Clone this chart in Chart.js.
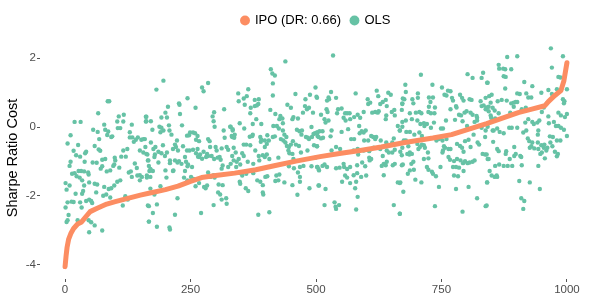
<!DOCTYPE html>
<html lang="en">
<head>
  <meta charset="UTF-8">
  <title>Sharpe Ratio Cost</title>
  <script src="https://cdn.jsdelivr.net/npm/chart.js"></script>
  <style>
    body { margin: 0; background: #ffffff; }
    #chart { display: block; }
  </style>
</head>
<body>
  <canvas id="chart" width="598" height="299"></canvas>

  <script>
    // series labels and colours (ggplot Set2)
    const seriesNames = ['IPO (DR: 0.66)', 'OLS'];
    const seriesColors = ['#fc8d62', '#66c2a5'];

    // axis ticks
    const xTicks = [0, 250, 500, 750, 1000];
    const yTicks = [-4, -2, 0, 2];

    // IPO: sorted cost curve, read as [index, value]
    const ipoPoints = [
      [0,-4.06],[2,-3.75],[4,-3.5],[7,-3.27],[12,-3.08],[17,-2.95],[25,-2.82],[33,-2.76],[43,-2.58],
      [50,-2.46],[63,-2.37],[83,-2.24],[100,-2.17],[123,-2.08],[150,-1.98],[169,-1.92],[200,-1.82],
      [225,-1.72],[250,-1.58],[272,-1.47],[300,-1.41],[338,-1.34],[380,-1.24],[419,-1.12],[460,-0.99],
      [508,-0.86],[550,-0.76],[588,-0.68],[630,-0.58],[677,-0.45],[733,-0.32],[770,-0.22],[800,-0.08],
      [840,0.1],[870,0.25],[903,0.42],[930,0.52],[956,0.62],[963,0.74],[976,0.92],[988,1.06],
      [994,1.35],[1000,1.87]
    ];

    // OLS: cost at the same index, read as [index, value]
    const olsPoints = [
      // 0 - 170
      [85,0.75],[88,0.75],[66,0.40],[19,0.15],[31,0.15],[107,0.31],[117,0.36],[104,0.16],[116,0.16],[78,0.07],
      [133,0.07],[161,0.30],[161,0.16],[11,-0.24],[5,-0.48],[56,-0.08],[65,-0.14],[80,-0.08],[86,-0.13],[84,-0.23],
      [105,-0.03],[110,-0.03],[129,-0.15],[134,-0.30],[129,-0.30],[92,-0.29],[94,-0.27],[68,-0.35],[59,-0.55],[67,-0.65],
      [70,-0.69],[26,-0.52],[17,-0.69],[22,-0.82],[30,-0.86],[42,-0.72],[40,-0.76],[116,-0.68],[124,-0.64],[112,-0.86],
      [121,-0.86],[137,-0.43],[141,-0.37],[152,-0.37],[156,-0.35],[145,-0.30],[149,-0.68],[156,-0.74],[162,-0.78],[165,-0.97],
      [11,-1.01],[9,-1.13],[39,-1.01],[55,-1.03],[63,-1.04],[74,-0.95],[80,-0.93],[99,-0.89],[100,-0.97],[74,-1.14],
      [71,-1.21],[83,-1.29],[90,-1.26],[96,-1.13],[98,-1.09],[108,-1.18],[14,-1.36],[19,-1.34],[27,-1.28],[32,-1.28],
      [38,-1.29],[46,-1.32],[47,-1.38],[23,-1.43],[29,-1.47],[139,-1.06],[143,-1.19],[127,-1.32],[131,-1.29],[133,-1.45],
      [144,-1.41],[149,-1.40],[153,-1.45],[149,-1.55],[163,-1.47],[168,-1.28],[1,-1.63],[9,-1.70],[3,-1.82],[34,-1.55],
      [38,-1.70],[48,-1.61],[59,-1.65],[64,-1.67],[62,-1.90],[36,-1.86],[34,-1.94],[21,-1.94],[78,-1.74],[87,-1.80],
      [92,-1.78],[76,-2.00],[82,-1.96],[98,-1.70],[104,-1.59],[110,-1.55],[90,-2.05],[13,-2.17],[17,-2.18],[5,-2.19],
      [30,-2.19],[42,-2.15],[48,-2.11],[52,-2.15],[54,-2.21],[1,-2.34],[7,-2.56],[3,-2.76],[5,-2.71],[33,-2.34],
      [120,-2.01],[125,-2.11],[115,-2.28],[25,-2.71],[47,-2.71],[52,-2.77],[59,-2.86],[48,-3.06],[74,-3.01],[165,-2.28],
      [167,-2.75],
      // 160 - 340
      [196,1.35],[182,1.09],[273,1.15],[276,1.04],[285,1.28],[244,0.84],[227,0.69],[228,0.65],[205,0.59],[260,0.56],
      [229,0.38],[200,0.42],[192,0.28],[203,0.28],[162,0.30],[162,0.17],[171,0.17],[297,0.43],[294,0.31],[296,0.17],
      [298,0.01],[317,0.52],[188,0.01],[192,-0.02],[196,-0.10],[190,-0.15],[207,0.05],[208,-0.10],[174,-0.08],[212,-0.22],
      [223,-0.39],[233,0.05],[316,-0.10],[318,-0.31],[329,0.01],[334,-0.06],[333,-0.29],[243,-0.25],[247,-0.24],[249,-0.16],
      [255,-0.16],[259,-0.18],[264,-0.26],[261,-0.37],[267,-0.41],[285,-0.35],[288,-0.41],[159,-0.35],[160,-0.58],[171,-0.45],
      [176,-0.64],[180,-0.58],[195,-0.53],[192,-0.76],[186,-0.72],[203,-0.74],[215,-0.64],[221,-0.58],[225,-0.68],[219,-0.51],
      [243,-0.68],[248,-0.68],[255,-0.66],[264,-0.64],[235,-0.56],[276,-0.72],[283,-0.78],[289,-0.58],[300,-0.58],[302,-0.68],
      [312,-0.62],[322,-0.58],[325,-0.66],[164,-0.80],[166,-0.97],[167,-1.13],[179,-0.80],[178,-0.87],[186,-1.03],[199,-0.84],
      [209,-0.97],[209,-1.05],[219,-0.97],[227,-0.99],[224,-1.03],[232,-1.07],[239,-0.87],[241,-1.01],[245,-1.09],[261,-0.76],
      [265,-0.86],[267,-0.87],[269,-0.80],[273,-0.92],[281,-0.87],[285,-0.84],[292,-0.84],[297,-0.93],[304,-0.89],[308,-0.87],
      [310,-0.95],[314,-1.12],[312,-1.21],[325,-1.16],[330,-1.07],[336,-0.97],[170,-1.22],[172,-1.26],[175,-1.28],[200,-1.26],
      [215,-1.28],[216,-1.26],[239,-1.28],[244,-1.14],[253,-1.16],[170,-1.45],[163,-1.41],[202,-1.47],[237,-1.47],[244,-1.55],
      [251,-1.45],[256,-1.51],[285,-1.32],[290,-1.45],[296,-1.40],[298,-1.47],[190,-1.72],[260,-1.72],[267,-1.63],[277,-1.74],
      [283,-1.70],[280,-1.78],[306,-1.67],[314,-1.69],[170,-1.79],[178,-1.96],[224,-2.07],[305,-1.90],[309,-1.96],[312,-2.11],
      [321,-2.07],[322,-2.23],[167,-2.30],[183,-2.25],[296,-2.27],[175,-2.50],[219,-2.55],[271,-2.50],[167,-2.75],[183,-2.90],
      [208,-2.92],[209,-2.98],
      // 330 - 510
      [439,1.91],[410,1.68],[413,1.56],[418,1.50],[414,1.27],[345,0.98],[365,1.10],[362,0.90],[414,0.92],[356,0.83],
      [346,0.75],[378,0.79],[386,0.81],[385,0.67],[382,0.63],[378,0.61],[358,0.65],[370,0.56],[369,0.40],[459,0.96],
      [479,0.81],[488,0.94],[502,0.85],[443,0.65],[450,0.56],[474,0.42],[478,0.61],[482,0.52],[486,0.56],[409,0.50],
      [419,0.38],[429,0.32],[427,0.23],[433,0.25],[434,0.11],[381,0.23],[455,0.29],[453,0.23],[464,0.25],[494,0.42],
      [491,0.00],[503,-0.16],[330,0.01],[334,-0.10],[337,-0.31],[332,-0.26],[338,-0.22],[348,0.11],[357,-0.04],[374,0.09],
      [391,0.09],[368,-0.28],[374,-0.22],[373,-0.26],[389,-0.29],[391,-0.37],[403,-0.24],[406,-0.39],[414,-0.29],[418,-0.27],
      [415,0.03],[422,0.03],[426,-0.04],[434,-0.10],[437,-0.22],[441,-0.29],[462,-0.08],[467,-0.12],[472,-0.10],[471,-0.22],
      [480,-0.29],[486,-0.35],[484,-0.31],[492,-0.29],[495,-0.20],[503,-0.26],[356,-0.51],[361,-0.51],[369,-0.53],[390,-0.43],
      [398,-0.39],[402,-0.49],[398,-0.58],[430,-0.35],[435,-0.39],[439,-0.45],[442,-0.55],[446,-0.58],[450,-0.51],[454,-0.41],
      [460,-0.51],[466,-0.55],[496,-0.53],[502,-0.56],[336,-0.60],[340,-0.74],[333,-0.84],[353,-0.76],[356,-0.84],[346,-0.93],
      [379,-0.68],[386,-0.84],[394,-0.82],[398,-0.87],[402,-0.80],[407,-0.93],[445,-0.68],[447,-0.76],[453,-0.78],[455,-0.93],
      [470,-0.74],[483,-0.68],[425,-0.89],[342,-1.01],[341,-1.16],[349,-1.09],[364,-1.01],[375,-1.07],[387,-0.97],[446,-1.14],
      [456,-1.20],[468,-1.16],[475,-1.13],[491,-1.14],[503,-1.16],[506,-1.26],[349,-1.34],[353,-1.41],[348,-1.59],[349,-1.65],
      [361,-1.36],[375,-1.34],[399,-1.45],[403,-1.43],[421,-1.41],[427,-1.38],[464,-1.32],[468,-1.45],[383,-1.55],[389,-1.59],
      [419,-1.57],[425,-1.55],[437,-1.61],[453,-1.69],[468,-1.59],[394,-1.69],[360,-1.78],[365,-1.86],[487,-1.78],[506,-1.70],
      [394,-1.90],[395,-1.96],[463,-1.97],[385,-2.55],[407,-2.48],
      // 500 - 675
      [534,2.08],[530,1.02],[525,0.86],[522,0.77],[526,0.81],[501,0.88],[499,1.15],[540,0.85],[579,0.98],[621,1.06],
      [624,0.90],[644,1.00],[649,0.94],[604,0.67],[608,0.71],[603,0.81],[628,0.67],[633,0.73],[639,0.79],[641,0.61],
      [521,0.52],[523,0.44],[510,0.36],[544,0.52],[551,0.54],[542,0.40],[558,0.40],[562,0.40],[567,0.40],[555,0.27],
      [559,0.19],[568,0.23],[576,0.29],[583,0.36],[588,0.27],[595,0.44],[612,0.42],[618,0.44],[623,0.42],[625,0.46],
      [639,0.23],[640,0.34],[651,0.44],[656,0.50],[657,0.34],[672,0.69],[673,0.83],[671,0.50],[498,-0.18],[502,-0.16],
      [507,-0.12],[513,-0.12],[505,-0.29],[510,-0.33],[514,-0.31],[517,0.23],[519,0.13],[525,0.19],[531,-0.10],[529,-0.27],
      [551,-0.14],[564,-0.06],[586,0.03],[591,-0.12],[595,-0.16],[599,-0.10],[587,-0.18],[610,-0.26],[614,-0.29],[618,-0.35],
      [620,-0.29],[570,-0.35],[576,-0.35],[596,-0.39],[604,-0.39],[629,-0.39],[640,-0.45],[655,-0.33],[652,-0.45],[663,0.03],
      [667,-0.10],[672,0.15],[502,-0.56],[531,-0.68],[540,-0.58],[548,-0.64],[575,-0.68],[584,-0.80],[583,-0.64],[595,-0.68],
      [606,-0.70],[615,-0.60],[628,-0.64],[633,-0.84],[641,-0.68],[645,-0.74],[652,-0.74],[657,-0.66],[668,-0.72],[672,-0.60],
      [499,-0.89],[505,-1.22],[502,-1.16],[513,-1.13],[517,-1.09],[522,-1.16],[540,-1.20],[547,-1.18],[555,-1.07],[556,-1.16],
      [562,-1.22],[568,-1.16],[582,-1.11],[592,-1.03],[598,-1.14],[606,-0.89],[607,-0.97],[610,-0.93],[631,-1.13],[635,-1.07],
      [639,-1.11],[641,-1.01],[653,-1.11],[657,-1.07],[673,-1.09],[558,-1.41],[562,-1.47],[575,-1.40],[582,-1.34],[590,-1.45],
      [600,-1.41],[635,-1.40],[552,-1.59],[568,-1.63],[580,-1.59],[505,-1.70],[519,-1.80],[578,-1.78],[663,-1.61],[668,-1.61],
      [583,-2.03],[517,-2.27],[537,-2.19],[539,-2.32],[540,-2.38],[546,-2.27],[580,-2.40],[655,-2.27],[667,-2.52],
      // 665 - 845
      [709,1.52],[802,1.54],[812,1.43],[833,1.58],[830,1.43],[732,1.23],[751,1.15],[678,1.23],[679,1.02],[763,1.06],
      [768,1.04],[756,0.94],[760,0.92],[787,0.94],[791,0.85],[794,0.77],[771,0.85],[773,0.77],[779,0.61],[768,0.52],
      [841,1.29],[845,0.90],[672,0.67],[676,0.81],[692,0.81],[703,0.98],[703,0.85],[694,0.69],[725,0.86],[733,0.86],
      [728,0.73],[725,0.59],[737,0.57],[724,0.44],[729,0.40],[736,0.40],[806,0.81],[810,0.79],[828,0.75],[830,0.61],
      [834,0.63],[840,0.57],[844,0.59],[820,0.32],[821,0.27],[780,0.57],[785,0.36],[789,0.34],[796,0.42],[800,0.46],
      [808,0.42],[812,0.36],[687,0.40],[699,0.42],[706,0.44],[710,0.40],[679,0.19],[691,0.23],[702,0.19],[708,0.09],
      [716,0.03],[715,0.11],[721,0.09],[729,-0.02],[735,0.13],[749,-0.04],[753,-0.04],[759,0.19],[777,0.21],[792,0.17],
      [801,0.03],[816,0.15],[821,0.19],[825,0.03],[830,-0.02],[838,-0.10],[842,0.01],[667,-0.10],[672,0.01],[680,-0.14],
      [687,-0.14],[675,-0.39],[679,-0.39],[696,-0.22],[706,-0.16],[711,-0.26],[684,-0.56],[687,-0.74],[691,-0.78],[686,-0.80],
      [702,-0.49],[704,-0.64],[707,-0.58],[711,-0.51],[715,-0.53],[717,-0.60],[723,-0.74],[715,-0.93],[724,-0.91],[740,-0.39],
      [745,-0.35],[752,-0.39],[760,-0.35],[755,-0.56],[757,-0.60],[753,-0.68],[752,-0.74],[764,-0.64],[768,-0.64],[764,-0.87],
      [767,-0.95],[775,-0.99],[773,-1.16],[779,-1.16],[785,-1.18],[781,-0.49],[787,-0.55],[791,-0.60],[794,-0.72],[797,-0.41],
      [804,-0.37],[808,-0.58],[781,-0.93],[788,-0.97],[793,-1.05],[797,-0.99],[802,-1.05],[806,-1.03],[812,-1.01],[816,-0.97],
      [814,-0.22],[822,-0.45],[825,-0.51],[832,-0.78],[837,-0.80],[844,-0.93],[671,-0.82],[682,-0.78],[694,-1.01],[690,-1.07],
      [671,-1.11],[683,-1.36],[687,-1.26],[695,-1.24],[721,-1.16],[724,-1.24],[731,-1.30],[733,-1.36],[739,-1.43],[748,-1.16],
      [775,-1.41],[783,-1.43],[794,-1.28],[698,-1.53],[710,-1.61],[667,-1.63],[745,-1.74],[779,-1.80],[804,-1.74],[841,-1.61],
      [674,-1.88],[821,-2.07],[737,-2.30],[838,-2.30],[792,-2.46],[667,-2.52],
      // 835 - 1000
      [968,2.29],[992,2.06],[881,2.04],[901,2.06],[864,1.81],[865,1.70],[873,1.70],[877,1.68],[889,1.68],[970,1.73],
      [874,1.48],[878,1.46],[983,1.46],[987,1.44],[842,1.29],[915,1.31],[931,1.19],[877,1.12],[980,1.10],[1000,1.10],
      [850,0.94],[838,0.85],[901,0.98],[906,0.96],[919,0.98],[923,0.86],[929,0.86],[949,1.00],[963,1.08],[970,0.96],
      [862,0.75],[870,0.79],[880,0.77],[894,0.71],[898,0.73],[901,0.73],[889,0.69],[894,0.59],[848,0.71],[992,0.81],
      [995,0.75],[994,0.69],[960,0.69],[954,0.57],[838,0.52],[844,0.46],[852,0.56],[856,0.48],[864,0.40],[887,0.42],
      [910,0.52],[918,0.56],[950,0.44],[963,0.31],[983,0.42],[988,0.34],[996,0.29],[1000,0.38],[848,0.34],[849,0.27],
      [857,0.25],[917,0.13],[923,0.23],[931,0.15],[934,0.09],[941,0.13],[945,0.19],[885,-0.02],[890,-0.02],[901,-0.02],
      [861,-0.04],[866,-0.14],[874,-0.18],[913,-0.16],[919,-0.10],[943,-0.10],[942,-0.22],[964,0.11],[974,0.15],[978,0.03],
      [983,0.03],[988,-0.02],[994,-0.08],[1000,-0.26],[852,-0.10],[854,-0.10],[837,-0.29],[922,-0.33],[925,-0.41],[931,-0.45],
      [942,-0.45],[966,-0.27],[972,-0.29],[980,-0.39],[987,-0.39],[853,-0.43],[861,-0.64],[864,-0.70],[895,-0.58],[926,-0.60],
      [929,-0.56],[935,-0.62],[943,-0.64],[949,-0.53],[955,-0.51],[954,-0.60],[961,-0.60],[959,-0.68],[967,-0.45],[971,-0.56],
      [976,-0.72],[980,-0.85],[982,-0.78],[840,-0.80],[842,-0.93],[878,-0.78],[879,-0.70],[895,-0.84],[898,-0.78],[886,-0.93],
      [907,-0.84],[909,-0.87],[947,-0.78],[950,-0.74],[956,-0.91],[857,-1.13],[865,-1.09],[874,-1.13],[882,-1.13],[891,-1.13],
      [910,-1.11],[943,-1.13],[846,-1.28],[850,-1.41],[856,-1.45],[861,-1.45],[860,-1.41],[841,-1.61],[905,-1.57],[926,-1.61],
      [946,-1.80],[909,-2.07],[915,-2.15],[913,-2.38],[840,-2.28]
    ];

    const toXY = pts => pts.map(p => ({ x: p[0], y: p[1] }));
    const FONT = '"Liberation Sans", Arial, sans-serif';

    // centre the legend over the plotting panel rather than the whole canvas
    const legendOverPanel = {
      id: 'legendOverPanel',
      afterLayout(chart) {
        const lg = chart.legend;
        if (!lg) return;
        const shift = (chart.chartArea.left + chart.chartArea.right) / 2 - (lg.left + lg.right) / 2;
        lg.left += shift;
        lg.right += shift;
      }
    };

    new Chart(document.getElementById('chart'), {
      type: 'scatter',
      data: {
        datasets: [
          {
            label: seriesNames[0],
            data: toXY(ipoPoints),
            showLine: true,
            borderColor: seriesColors[0],
            backgroundColor: seriesColors[0],
            borderWidth: 5,
            borderCapStyle: 'round',
            borderJoinStyle: 'round',
            pointRadius: 0,
            tension: 0
          },
          {
            label: seriesNames[1],
            data: toXY(olsPoints),
            backgroundColor: seriesColors[1],
            borderWidth: 0,
            pointRadius: 2.2
          }
        ]
      },
      plugins: [legendOverPanel],
      options: {
        responsive: false,
        animation: false,
        devicePixelRatio: 1,
        layout: { padding: { top: 4, right: 6, bottom: 0, left: 0 } },
        plugins: {
          tooltip: { enabled: false },
          legend: {
            position: 'top',
            labels: {
              usePointStyle: true,
              pointStyle: 'circle',
              boxWidth: 7,
              boxHeight: 7,
              padding: 10,
              color: '#000',
              font: { family: FONT, size: 13 },
              generateLabels(chart) {
                return chart.data.datasets.map((ds, i) => ({
                  text: ds.label,
                  fillStyle: seriesColors[i],
                  strokeStyle: seriesColors[i],
                  lineWidth: 0,
                  pointStyle: 'circle',
                  fontColor: '#000',
                  datasetIndex: i
                }));
              }
            }
          }
        },
        scales: {
          x: {
            type: 'linear',
            min: -49.95,
            max: 1049.95,
            afterBuildTicks(s) { s.ticks = xTicks.map(v => ({ value: v })); },
            afterFit(s) { s.height = 20; },
            border: { display: false },
            grid: { drawOnChartArea: false, drawTicks: true, tickLength: 3, color: '#555' },
            ticks: {
              color: '#4d4d4d', padding: 1, maxRotation: 0,
              font: { family: FONT, size: 11.5 },
              callback: v => String(v)
            }
          },
          y: {
            type: 'linear',
            min: -4.42,
            max: 2.62,
            afterBuildTicks(s) { s.ticks = yTicks.map(v => ({ value: v })); },
            afterFit(s) { s.width = 40; },
            border: { display: false },
            grid: { drawOnChartArea: false, drawTicks: true, tickLength: 3, color: '#555' },
            ticks: { color: '#4d4d4d', padding: 1, font: { family: FONT, size: 11.5 }, callback: v => String(v) },
            title: { display: true, text: 'Sharpe Ratio Cost', color: '#000', padding: { top: 4, bottom: 0 }, font: { family: FONT, size: 14.5 } }
          }
        }
      }
    });
  </script>
</body>
</html>
